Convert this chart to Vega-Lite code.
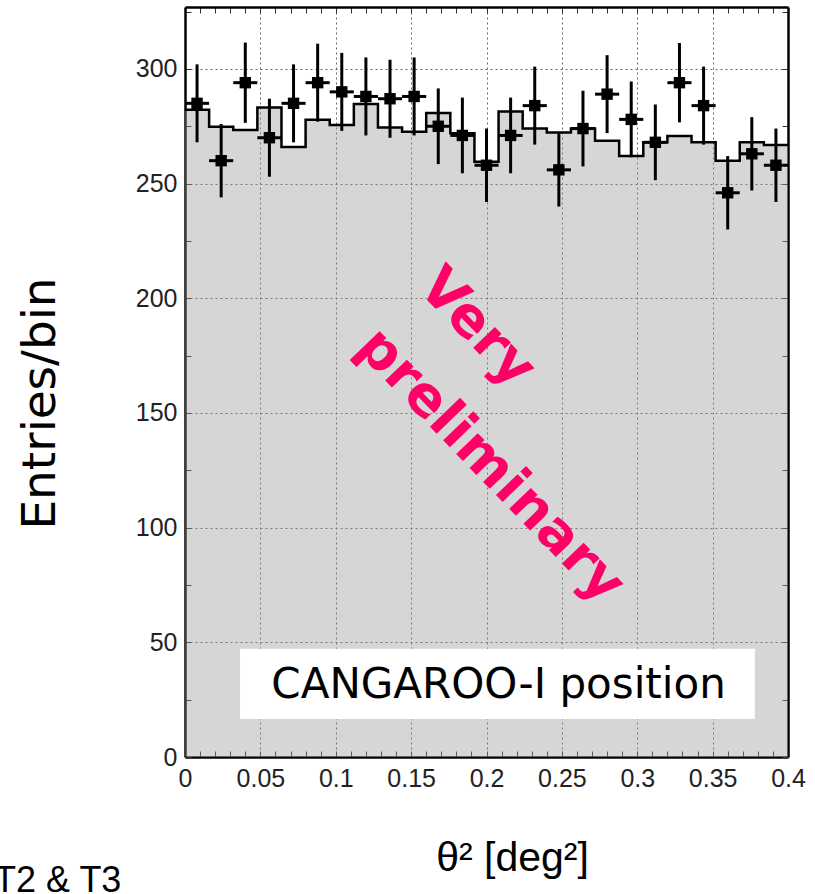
{
  "$schema": "https://vega.github.io/schema/vega-lite/v6.json",
  "width": 603,
  "height": 750,
  "autosize": {"type": "none"},
  "padding": {"left": 185, "top": 7, "right": 27, "bottom": 137},
  "background": "white",
  "config": {"view": {"stroke": null}},
  "datasets": {
    "bins": [
      {"lo": 0.0, "hi": 0.016, "xc": 0.008, "n": 285, "err": 17},
      {"lo": 0.016, "hi": 0.032, "xc": 0.024, "n": 260, "err": 16},
      {"lo": 0.032, "hi": 0.048, "xc": 0.04, "n": 294, "err": 17.5},
      {"lo": 0.048, "hi": 0.064, "xc": 0.056, "n": 270, "err": 17},
      {"lo": 0.064, "hi": 0.08, "xc": 0.072, "n": 285, "err": 17},
      {"lo": 0.08, "hi": 0.096, "xc": 0.088, "n": 294, "err": 17},
      {"lo": 0.096, "hi": 0.112, "xc": 0.104, "n": 290, "err": 17},
      {"lo": 0.112, "hi": 0.128, "xc": 0.12, "n": 288, "err": 17},
      {"lo": 0.128, "hi": 0.144, "xc": 0.136, "n": 287, "err": 17},
      {"lo": 0.144, "hi": 0.16, "xc": 0.152, "n": 288, "err": 17},
      {"lo": 0.16, "hi": 0.176, "xc": 0.168, "n": 275, "err": 16.5},
      {"lo": 0.176, "hi": 0.192, "xc": 0.184, "n": 271, "err": 16.5},
      {"lo": 0.192, "hi": 0.208, "xc": 0.2, "n": 258, "err": 16},
      {"lo": 0.208, "hi": 0.224, "xc": 0.216, "n": 271, "err": 16.5},
      {"lo": 0.224, "hi": 0.24, "xc": 0.232, "n": 284, "err": 17},
      {"lo": 0.24, "hi": 0.256, "xc": 0.248, "n": 256, "err": 16},
      {"lo": 0.256, "hi": 0.272, "xc": 0.264, "n": 274, "err": 16.5},
      {"lo": 0.272, "hi": 0.288, "xc": 0.28, "n": 289, "err": 17},
      {"lo": 0.288, "hi": 0.304, "xc": 0.296, "n": 278, "err": 16.5},
      {"lo": 0.304, "hi": 0.32, "xc": 0.312, "n": 268, "err": 16.5},
      {"lo": 0.32, "hi": 0.336, "xc": 0.328, "n": 294, "err": 17.3},
      {"lo": 0.336, "hi": 0.352, "xc": 0.344, "n": 284, "err": 17},
      {"lo": 0.352, "hi": 0.368, "xc": 0.36, "n": 246, "err": 16},
      {"lo": 0.368, "hi": 0.384, "xc": 0.376, "n": 263, "err": 16},
      {"lo": 0.384, "hi": 0.4, "xc": 0.392, "n": 258, "err": 16}
    ],
    "edges": [
      {"e": 0.0, "b": 282.2},
      {"e": 0.016, "b": 274.8},
      {"e": 0.032, "b": 273.4},
      {"e": 0.048, "b": 283.2},
      {"e": 0.064, "b": 266},
      {"e": 0.08, "b": 277.8},
      {"e": 0.096, "b": 275.6},
      {"e": 0.112, "b": 284.7},
      {"e": 0.128, "b": 274.5},
      {"e": 0.144, "b": 272.6},
      {"e": 0.16, "b": 280.8},
      {"e": 0.176, "b": 272},
      {"e": 0.192, "b": 259.5},
      {"e": 0.208, "b": 281.4},
      {"e": 0.224, "b": 274},
      {"e": 0.24, "b": 272.3},
      {"e": 0.256, "b": 274},
      {"e": 0.272, "b": 268.7},
      {"e": 0.288, "b": 262},
      {"e": 0.304, "b": 268},
      {"e": 0.32, "b": 270.8},
      {"e": 0.336, "b": 268},
      {"e": 0.352, "b": 260},
      {"e": 0.368, "b": 268},
      {"e": 0.384, "b": 266.8},
      {"e": 0.4, "b": 266.8}
    ],
    "one": [{}]
  },
  "resolve": {"axis": {"x": "independent", "y": "independent"}},
  "layer": [
    {
      "data": {"name": "edges"},
      "mark": {"type": "area", "interpolate": "step-after", "color": "#999999", "opacity": 0.4},
      "encoding": {
        "x": {
          "field": "e", "type": "quantitative",
          "scale": {"domain": [0, 0.4], "nice": false, "zero": false},
          "axis": {
            "orient": "bottom",
            "values": [0, 0.01, 0.02, 0.03, 0.04, 0.05, 0.06, 0.07, 0.08, 0.09, 0.1, 0.11, 0.12, 0.13, 0.14, 0.15, 0.16, 0.17, 0.18, 0.19, 0.2, 0.21, 0.22, 0.23, 0.24, 0.25, 0.26, 0.27, 0.28, 0.29, 0.3, 0.31, 0.32, 0.33, 0.34, 0.35, 0.36, 0.37, 0.38, 0.39, 0.4],
            "labelExpr": "abs(datum.value*20 - round(datum.value*20)) < 0.001 ? format(datum.value, '~g') : ''",
            "labelFont": "Liberation Sans",
            "labelFontSize": 25,
            "labelColor": "#222222",
            "labelPadding": 15,
            "labelOverlap": false,
            "labelFlush": false,
            "domainColor": "black",
            "domainWidth": 2.5,
            "ticks": true,
            "tickSize": -6,
            "tickColor": "#333333",
            "tickWidth": 1,
            "grid": true,
            "gridColor": "#666666",
            "gridDash": [2, 3],
            "gridWidth": 1,
            "gridOpacity": {"condition": {"test": "abs(datum.value*20 - round(datum.value*20)) < 0.001 && datum.value > 0 && datum.value < 0.4", "value": 1}, "value": 0},
            "title": "θ² [deg²]",
            "titleFont": "Liberation Sans",
            "titleFontSize": 41,
            "titleFontWeight": "normal",
            "titleColor": "black",
            "titleX": 327,
            "titleY": 101,
            "titleAlign": "center",
            "titleBaseline": "middle"
          }
        },
        "y": {
          "field": "b", "type": "quantitative",
          "scale": {"domain": [0, 327], "nice": false, "zero": false},
          "axis": {
            "orient": "left",
            "values": [0, 25, 50, 75, 100, 125, 150, 175, 200, 225, 250, 275, 300, 325],
            "labelExpr": "datum.value % 50 === 0 ? datum.label : ''",
            "labelFont": "Liberation Sans",
            "labelFontSize": 25,
            "labelColor": "#222222",
            "labelPadding": 14,
            "labelOverlap": false,
            "labelFlush": false,
            "domainColor": "black",
            "domainWidth": 2.5,
            "ticks": true,
            "tickSize": -6,
            "tickColor": "#333333",
            "tickWidth": 1,
            "grid": true,
            "gridColor": "#666666",
            "gridDash": [2, 3],
            "gridWidth": 1,
            "gridOpacity": {"condition": {"test": "datum.value % 50 === 0 && datum.value > 0", "value": 1}, "value": 0},
            "title": "Entries/bin",
            "titleFont": "DejaVu Sans",
            "titleFontSize": 47,
            "titleFontWeight": "normal",
            "titleColor": "black",
            "titleAngle": -90,
            "titleX": -145,
            "titleY": 396,
            "titleAlign": "center",
            "titleBaseline": "middle"
          }
        },
        "y2": {"datum": 0}
      }
    },
    {
      "data": {"name": "edges"},
      "mark": {"type": "line", "interpolate": "step-after", "color": "black", "strokeWidth": 2.5},
      "encoding": {
        "x": {
          "field": "e", "type": "quantitative",
          "scale": {"domain": [0, 0.4], "nice": false, "zero": false},
          "axis": {
            "orient": "top",
            "values": [0, 0.01, 0.02, 0.03, 0.04, 0.05, 0.06, 0.07, 0.08, 0.09, 0.1, 0.11, 0.12, 0.13, 0.14, 0.15, 0.16, 0.17, 0.18, 0.19, 0.2, 0.21, 0.22, 0.23, 0.24, 0.25, 0.26, 0.27, 0.28, 0.29, 0.3, 0.31, 0.32, 0.33, 0.34, 0.35, 0.36, 0.37, 0.38, 0.39, 0.4],
            "labels": false,
            "grid": false,
            "title": null,
            "domainColor": "black",
            "domainWidth": 2.5,
            "ticks": true,
            "tickSize": -6,
            "tickColor": "#333333",
            "tickWidth": 1
          }
        },
        "y": {
          "field": "b", "type": "quantitative",
          "scale": {"domain": [0, 327], "nice": false, "zero": false},
          "axis": {
            "orient": "right",
            "values": [0, 25, 50, 75, 100, 125, 150, 175, 200, 225, 250, 275, 300, 325],
            "labels": false,
            "grid": false,
            "title": null,
            "domainColor": "black",
            "domainWidth": 2.5,
            "ticks": true,
            "tickSize": -6,
            "tickColor": "#333333",
            "tickWidth": 1
          }
        }
      }
    },
    {
      "data": {"name": "one"},
      "mark": {"type": "rect", "color": "white", "opacity": 1},
      "encoding": {
        "x": {"datum": 0.0365, "type": "quantitative", "axis": null},
        "x2": {"datum": 0.378},
        "y": {"datum": 16.6, "type": "quantitative", "axis": null},
        "y2": {"datum": 47.2}
      }
    },
    {
      "data": {"name": "one"},
      "mark": {"type": "text", "text": "CANGAROO-I position", "font": "DejaVu Sans", "fontSize": 42, "color": "black", "align": "center", "baseline": "middle"},
      "encoding": {
        "x": {"datum": 0.208, "type": "quantitative", "axis": null},
        "y": {"datum": 31.4, "type": "quantitative", "axis": null}
      }
    },
    {
      "data": {"name": "bins"},
      "mark": {"type": "errorbar", "color": "black", "thickness": 3},
      "encoding": {
        "x": {"field": "xc", "type": "quantitative", "axis": null},
        "y": {"field": "n", "type": "quantitative", "axis": null},
        "yError": {"field": "err"}
      }
    },
    {
      "data": {"name": "bins"},
      "mark": {"type": "rule", "color": "black", "strokeWidth": 3},
      "encoding": {
        "x": {"field": "lo", "type": "quantitative", "axis": null},
        "x2": {"field": "hi"},
        "y": {"field": "n", "type": "quantitative", "axis": null}
      }
    },
    {
      "data": {"name": "bins"},
      "mark": {"type": "point", "shape": "square", "filled": true, "size": 130, "color": "black", "opacity": 1},
      "encoding": {
        "x": {"field": "xc", "type": "quantitative", "axis": null},
        "y": {"field": "n", "type": "quantitative", "axis": null}
      }
    },
    {
      "data": {"name": "one"},
      "mark": {"type": "text", "text": ["Very", "preliminary"], "font": "DejaVu Sans", "fontWeight": "bold", "fontSize": 55, "lineHeight": 86, "angle": 46, "align": "left", "baseline": "alphabetic", "color": "#ff0066"},
      "encoding": {
        "x": {"datum": 0.1536, "type": "quantitative", "axis": null},
        "y": {"datum": 204, "type": "quantitative", "axis": null}
      }
    },
    {
      "data": {"name": "one"},
      "mark": {"type": "text", "text": "T2 & T3", "font": "Liberation Sans", "fontSize": 36, "color": "black", "align": "left", "baseline": "alphabetic"},
      "encoding": {
        "x": {"datum": -0.1267, "type": "quantitative", "axis": null},
        "y": {"datum": -59, "type": "quantitative", "axis": null}
      }
    }
  ]
}
